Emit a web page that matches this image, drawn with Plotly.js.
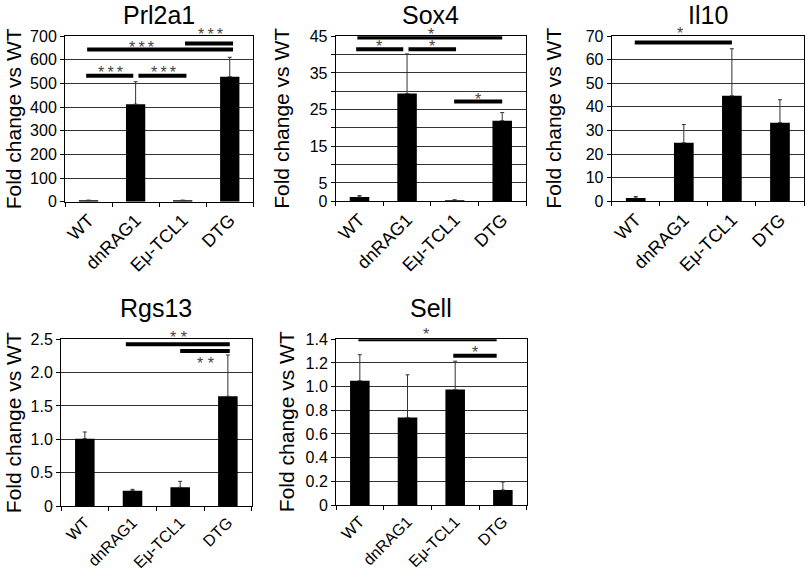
<!DOCTYPE html>
<html><head><meta charset="utf-8">
<script src="https://cdn.plot.ly/plotly-3.0.1.min.js"></script>
<style>html,body{margin:0;padding:0;background:#fff}#chart{width:807px;height:575px}</style>
</head><body><div id="chart"></div><script>
// ---------- data ----------
const categories = ['WT', 'dnRAG1', 'Eμ-TCL1', 'DTG'];
const geneNames = ['Prl2a1', 'Sox4', 'Il10', 'Rgs13', 'Sell'];
const yAxisTitle = 'Fold change vs WT';

const prl2a1Values = [6, 412, 6, 528];
const prl2a1ErrUp  = [0, 95, 0, 82];
const sox4Values   = [1.2, 29.4, 0.3, 22.0];
const sox4ErrUp    = [0.35, 10.8, 0.1, 2.2];
const il10Values   = [1.4, 24.8, 44.7, 33.3];
const il10ErrUp    = [0.6, 7.7, 19.9, 9.7];
const rgs13Values  = [1.01, 0.23, 0.28, 1.645];
const rgs13ErrUp   = [0.1, 0.02, 0.09, 0.62];
const sellValues   = [1.05, 0.74, 0.975, 0.127];
const sellErrUp    = [0.22, 0.36, 0.24, 0.067];

const prl2a1TickVals = [0, 100, 200, 300, 400, 500, 600, 700];
const prl2a1TickText = ['0', '100', '200', '300', '400', '500', '600', '700'];
const sox4TickVals   = [0, 5, 10, 15, 20, 25, 30, 35, 40, 45];
const sox4TickText   = ['0', '5', '', '15', '', '25', '', '35', '', '45'];
const il10TickVals   = [0, 10, 20, 30, 40, 50, 60, 70];
const il10TickText   = ['0', '10', '20', '30', '40', '50', '60', '70'];
const rgs13TickVals  = [0, 0.5, 1.0, 1.5, 2.0, 2.5];
const rgs13TickText  = ['0', '0.5', '1.0', '1.5', '2.0', '2.5'];
const sellTickVals   = [0, 0.2, 0.4, 0.6, 0.8, 1.0, 1.2, 1.4];
const sellTickText   = ['0', '0.2', '0.4', '0.6', '0.8', '1.0', '1.2', '1.4'];

// significance comparisons (spans in category units, levels in data units)
const prl2a1SigFrom   = [-0.05, 1.06, -0.03, 2.05];
const prl2a1SigTo     = [0.95, 2.08, 3.07, 3.07];
const prl2a1SigLevel  = [532, 532, 643, 668];
const prl2a1SigText   = ['*\u2009*\u2009*', '*\u2009*\u2009*', '*\u2009*\u2009*', '*\u2009*\u2009*'];
const prl2a1SigTextX  = [0.46, 1.59, 1.13, 2.6];
const prl2a1SigTextY  = [559, 559, 666, 718];

const sox4SigFrom  = [-0.045, -0.07, 1.03, 1.99];
const sox4SigTo    = [3.0, 0.92, 2.03, 3.0];
const sox4SigLevel = [44.7, 41.45, 41.45, 27.2];
const sox4SigText  = ['*', '*', '*', '*'];
const sox4SigTextX = [1.5, 0.40, 1.52, 2.5];
const sox4SigTextY = [46.3, 43.0, 43.0, 28.6];

const il10SigFrom  = [-0.02];
const il10SigTo    = [2.0];
const il10SigLevel = [67.2];
const il10SigText  = ['*'];
const il10SigTextX = [0.92];
const il10SigTextY = [72.3];

const rgs13SigFrom  = [0.86, 2.0];
const rgs13SigTo    = [3.04, 3.04];
const rgs13SigLevel = [2.425, 2.325];
const rgs13SigText  = ['* *', '* *'];
const rgs13SigTextX = [1.96, 2.53];
const rgs13SigTextY = [2.565, 2.175];

const sellSigFrom  = [-0.03, 1.96];
const sellSigTo    = [2.87, 2.87];
const sellSigLevel = [1.40, 1.262];
const sellSigText  = ['*', '*'];
const sellSigTextX = [1.39, 2.42];
const sellSigTextY = [1.465, 1.315];

// ---------- assembling ----------
const W = 807, H = 575;
const FONT = 'Liberation Sans, Arial, sans-serif';
const panelData = [
  {values: prl2a1Values, err: prl2a1ErrUp, tv: prl2a1TickVals, tt: prl2a1TickText,
   sf: prl2a1SigFrom, st: prl2a1SigTo, sl: prl2a1SigLevel, stx: prl2a1SigText, sx: prl2a1SigTextX, sy: prl2a1SigTextY},
  {values: sox4Values, err: sox4ErrUp, tv: sox4TickVals, tt: sox4TickText,
   sf: sox4SigFrom, st: sox4SigTo, sl: sox4SigLevel, stx: sox4SigText, sx: sox4SigTextX, sy: sox4SigTextY},
  {values: il10Values, err: il10ErrUp, tv: il10TickVals, tt: il10TickText,
   sf: il10SigFrom, st: il10SigTo, sl: il10SigLevel, stx: il10SigText, sx: il10SigTextX, sy: il10SigTextY},
  {values: rgs13Values, err: rgs13ErrUp, tv: rgs13TickVals, tt: rgs13TickText,
   sf: rgs13SigFrom, st: rgs13SigTo, sl: rgs13SigLevel, stx: rgs13SigText, sx: rgs13SigTextX, sy: rgs13SigTextY},
  {values: sellValues, err: sellErrUp, tv: sellTickVals, tt: sellTickText,
   sf: sellSigFrom, st: sellSigTo, sl: sellSigLevel, stx: sellSigText, sx: sellSigTextX, sy: sellSigTextY}
];
// plot boxes in pixels: left, right, top, bottom; title center y; y-title center x; x tick font
const boxes = [
  {l: 65, r: 253.3, t: 36, b: 201.7, ty: 14.5, yt: 13.5, xf: 18},
  {l: 335.7, r: 526, t: 36.3, b: 201.3, ty: 14.5, yt: 282, xf: 18},
  {l: 611.7, r: 804, t: 36, b: 201.3, ty: 14.5, yt: 554, xf: 18},
  {l: 61, r: 251.7, t: 339.3, b: 506, ty: 308, yt: 13.5, xf: 16},
  {l: 336, r: 526.7, t: 339.3, b: 505, ty: 308, yt: 286, xf: 16}
];

const traces = [];
const layout = {
  width: W, height: H, margin: {l: 0, r: 0, t: 0, b: 0},
  paper_bgcolor: '#fff', plot_bgcolor: '#fff', showlegend: false,
  font: {family: FONT, color: '#000'},
  annotations: []
};

panelData.forEach((p, i) => {
  const b = boxes[i];
  const n = i === 0 ? '' : String(i + 1);
  const xa = 'x' + n, ya = 'y' + n;
  const idx = categories.map((c, k) => k);
  const ymax = p.tv[p.tv.length - 1];
  traces.push({
    type: 'bar', x: idx, y: p.values, xaxis: xa, yaxis: ya, width: 0.41,
    marker: {color: '#000', line: {width: 0}},
    error_y: {type: 'data', symmetric: false, array: p.err, arrayminus: p.err.map(() => 0),
              color: '#333', thickness: 1, width: 2},
    hoverinfo: 'skip'
  });
  p.sf.forEach((f, k) => {
    traces.push({
      type: 'scatter', mode: 'lines', x: [f, p.st[k]], y: [p.sl[k], p.sl[k]],
      xaxis: xa, yaxis: ya, cliponaxis: false,
      line: {color: '#000', width: 4}, hoverinfo: 'skip'
    });
    layout.annotations.push({
      xref: xa, yref: ya + ' domain', x: p.sx[k], y: p.sy[k] / ymax, text: p.stx[k], showarrow: false,
      xanchor: 'center', yanchor: 'middle', yshift: -3,
      font: {family: FONT, size: 16, color: '#444'}
    });
  });
  layout['xaxis' + n] = {
    domain: [b.l / W, b.r / W], anchor: ya, range: [-0.5, 3.5],
    tickvals: idx, ticktext: categories, tickangle: -45, ticks: '',
    tickfont: {family: FONT, size: b.xf, color: '#000'},
    minor: {tickvals: [-0.5, 0.5, 1.5, 2.5, 3.5], ticks: 'outside', ticklen: 4, tickcolor: '#000', showgrid: false},
    showline: true, linecolor: '#000', linewidth: 1, mirror: true,
    showgrid: false, zeroline: false, fixedrange: true
  };
  layout['yaxis' + n] = {
    domain: [1 - b.b / H, 1 - b.t / H], anchor: xa, range: [0, ymax],
    tickvals: p.tv, ticktext: p.tt, ticks: 'outside', ticklen: 4, tickcolor: '#000',
    tickfont: {family: FONT, size: 16, color: '#000'},
    showline: true, linecolor: '#000', linewidth: 1, mirror: true,
    showgrid: true, gridcolor: '#333', gridwidth: 1, zeroline: false, fixedrange: true
  };
  layout.annotations.push({
    xref: 'paper', yref: 'paper', x: (b.l + b.r) / 2 / W, y: 1 - b.ty / H,
    xanchor: 'center', yanchor: 'middle', text: geneNames[i], showarrow: false,
    font: {family: FONT, size: 25, color: '#000'}
  });
  layout.annotations.push({
    xref: 'paper', yref: 'paper', x: b.yt / W, y: 1 - ((b.t + b.b) / 2) / H,
    xanchor: 'center', yanchor: 'middle', text: yAxisTitle, textangle: -90, showarrow: false,
    font: {family: FONT, size: 21, color: '#000'}
  });
});

Plotly.newPlot('chart', traces, layout, {staticPlot: true, displayModeBar: false});
</script></body></html>
